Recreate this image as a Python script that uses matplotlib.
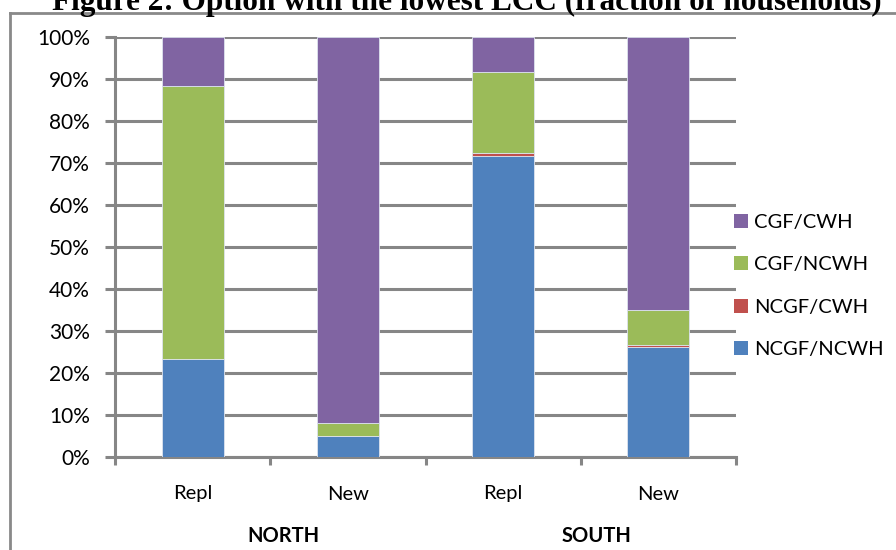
import matplotlib
matplotlib.use("Agg")
import matplotlib.pyplot as plt
from matplotlib.lines import Line2D
from matplotlib.patches import Patch
import numpy as np

# Share of households for which each option has the lowest LCC (%)
categories = ["Repl", "New", "Repl", "New"]
regions = ["NORTH", "SOUTH"]
series_names = ["NCGF/NCWH", "NCGF/CWH", "CGF/NCWH", "CGF/CWH"]
ncgf_ncwh = [23.3, 5.1, 71.7, 26.2]
ncgf_cwh = [0.0, 0.0, 0.7, 0.5]
cgf_ncwh = [65.0, 2.9, 19.2, 8.2]
cgf_cwh = [11.7, 92.0, 8.4, 65.1]
colors = ["#4F81BD", "#C0504D", "#9BBB59", "#8064A2"]

W, H = 896, 550
fig = plt.figure(figsize=(W / 100, H / 100), dpi=100)
ax = fig.add_axes([115 / W, 1 - 457 / H, (736 - 115) / W, (457 - 37) / H])

grid_c = "#868686"
x = np.arange(len(categories))
bottom = np.zeros(len(categories))
for vals, col in zip([ncgf_ncwh, ncgf_cwh, cgf_ncwh, cgf_cwh], colors):
    v = np.array(vals)
    ax.bar(x, v, width=0.4, bottom=bottom, color=col, edgecolor="#dde3ee",
           linewidth=0.6, zorder=3)
    bottom += v

ax.set_xlim(-0.5, len(categories) - 0.5)
ax.set_ylim(0, 100)
ax.set_yticks(np.arange(0, 101, 10))
ax.set_yticklabels([f"{t}%" for t in range(0, 101, 10)])
ax.yaxis.grid(True, color=grid_c, linewidth=2.2, zorder=0)
ax.set_axisbelow(True)

for s in ["top", "right"]:
    ax.spines[s].set_visible(False)
for s in ["left", "bottom"]:
    ax.spines[s].set_color(grid_c)
    ax.spines[s].set_linewidth(2.2)

# category ticks sit on the boundaries between bars
ax.set_xticks(np.arange(-0.5, len(categories), 1.0))
ax.set_xticklabels([])
ax.tick_params(axis="x", length=6, width=2.2, color=grid_c, direction="out")
ax.tick_params(axis="y", length=7, width=2.2, color=grid_c, direction="out",
               labelsize=15, pad=11)
for lab in ax.get_yticklabels():
    lab.set_family("Lato")
    lab.set_color("#000000")

trans = ax.get_xaxis_transform()
for xi, c in zip(x, categories):
    ax.text(xi, -37 / 420, c, transform=trans, ha="center", va="center",
            fontsize=14.5, family="Lato")

region_x = [283, 597]
for rx, r in zip(region_x, regions):
    fig.text(rx / W, 1 - 536 / H, r, ha="center", va="center", fontsize=14.5,
             family="Lato", weight="bold")

handles = [Patch(facecolor=c, edgecolor="none") for c in colors]
leg = fig.legend(handles[::-1], series_names[::-1], loc="upper left",
                 bbox_to_anchor=(716 / W, 1 - 196 / H), frameon=False,
                 handlelength=0.7, handleheight=0.7, handletextpad=0.3,
                 labelspacing=1.25, prop={"family": "Lato", "size": 14.5})

# outer chart frame
fig.add_artist(Line2D([10 / W, 10 / W], [0, 1 - 13 / H], color="#898989",
                      linewidth=2, transform=fig.transFigure))
fig.add_artist(Line2D([10 / W, 1], [1 - 13 / H, 1 - 13 / H], color="#898989",
                      linewidth=2, transform=fig.transFigure))

fig.text(467 / W, 1 - 10 / H,
         "Figure 2: Option with the lowest LCC (fraction of households)",
         ha="center", va="baseline", fontsize=22.5, family="Liberation Serif",
         weight="bold")

fig.savefig("out.png", dpi=100)
